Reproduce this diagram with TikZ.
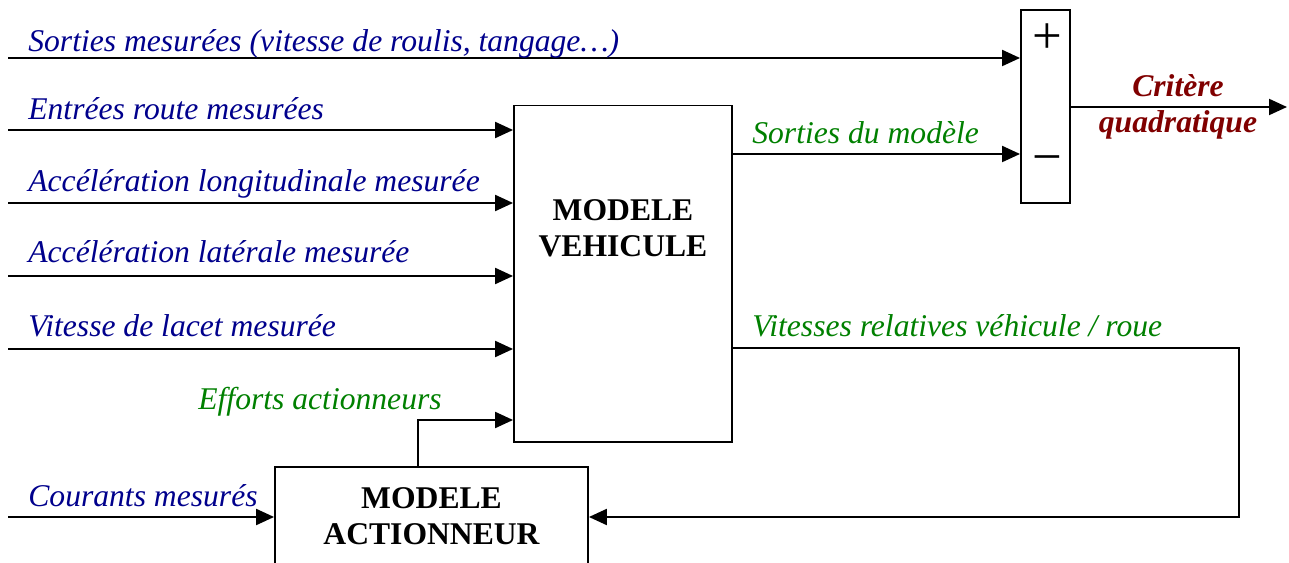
\documentclass[tikz,border=0pt]{standalone}
\usepackage{fontspec}
\setmainfont{Liberation Serif}
\usepackage{xcolor}
\usetikzlibrary{arrows.meta}
\usetikzlibrary{calc}
\definecolor{inblue}{RGB}{0,0,140}
\definecolor{modgreen}{RGB}{0,128,0}
\definecolor{critred}{RGB}{128,0,0}
\tikzset{
    block/.style={
        draw,
        line width=1.1pt,
        fill=white,
        inner sep=0pt
    },
    blocktext/.style={
        align=center,
        inner sep=0pt,
        font=\fontsize{18}{20.5}\selectfont\bfseries
    },
    flow/.style={
        draw,
        line width=1.2pt,
        -{Triangle[length=3.6mm, width=3.2mm]}
    },
    inlabel/.style={
        anchor=base west,
        inner sep=0pt,
        text=inblue,
        font=\fontsize{18}{20.5}\selectfont\itshape
    },
    modlabel/.style={inlabel, text=modgreen},
    critlabel/.style={
        align=center,
        inner sep=0pt,
        text=critred,
        font=\fontsize{18}{20.5}\selectfont\bfseries\itshape
    },
    signtext/.style={inner sep=0pt, anchor=base, font=\fontsize{30}{30}\selectfont}
}

\begin{document}
\begin{tikzpicture}[x=0.02cm, y=-0.02cm]
    \useasboundingbox (0,0) rectangle (1289,563);

    % Blocks
    \node[block, minimum width=4.36cm, minimum height=6.74cm] (veh) at (623,274) {};
    \node[blocktext] (vehtxt) at (623,228) {MODELE\\VEHICULE};
    \node[block, minimum width=6.26cm, minimum height=2.66cm] (act) at (431.5,533.5) {};
    \node[blocktext] (acttxt) at (431.5,516) {MODELE\\ACTIONNEUR};
    \node[block, minimum width=0.98cm, minimum height=3.86cm] (sum) at (1045.5,106.5) {};
    \node[signtext] (plus) at (1047,54) {+};
    \node[signtext] (minus) at (1047,175) {−};

    % Free ends
    \coordinate (s0) at (8,58);
    \coordinate (e1) at (8,130);
    \coordinate (e2) at (8,203);
    \coordinate (e3) at (8,276);
    \coordinate (e4) at (8,349);
    \coordinate (c0) at (8,517);
    \coordinate (f0) at (418,420);
    \coordinate (m0) at (0,154);
    \coordinate (v0) at (1239,348);
    \coordinate (out) at (1287,107);

    % Connectors
    \draw[flow] (s0) -- (s0 -| sum.west);
    \foreach \i in {1,...,4}
        \draw[flow] (e\i) -- (e\i -| veh.west);
    \draw[flow] (c0) -- (c0 -| act.west);
    \draw[flow] (act.north -| f0) -- (f0) -- (f0 -| veh.west);
    \draw[flow] (veh.east |- m0) -- (sum.west |- m0);
    \draw[flow] (veh.east |- v0) -- (v0) -- (v0 |- c0) -- (act.east |- c0);
    \draw[flow] (sum.east |- out) -- (out);

    % Labels
    \node[inlabel] (ls0) at (28,52) {Sorties mesurées (vitesse de roulis, tangage…)};
    \node[inlabel] (le1) at (28,120) {Entrées route mesurées};
    \node[inlabel] (le2) at (28,192) {Accélération longitudinale mesurée};
    \node[inlabel] (le3) at (28,263) {Accélération latérale mesurée};
    \node[inlabel] (le4) at (28,337) {Vitesse de lacet mesurée};
    \node[inlabel] (lc0) at (28,507) {Courants mesurés};
    \node[modlabel] (lf0) at (198,410) {Efforts actionneurs};
    \node[modlabel] (lm0) at (752,144) {Sorties du modèle};
    \node[modlabel] (lv0) at (752,337) {Vitesses relatives véhicule / roue};
    \node[critlabel, anchor=base] (lcrit) at (1178,133) {Critère\\quadratique};
\end{tikzpicture}
\end{document}
